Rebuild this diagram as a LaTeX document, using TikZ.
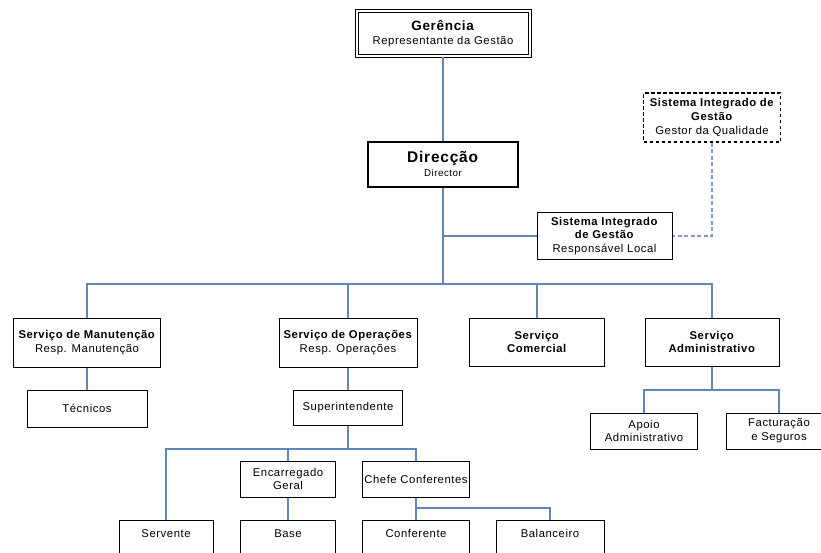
\documentclass[tikz,border=0pt]{standalone}
\usepackage{fontspec}
\setmainfont{Liberation Sans}[LetterSpace=5]
\definecolor{conn}{RGB}{98,134,184}
\definecolor{dconn}{RGB}{125,155,200}
\tikzset{
  box/.style={draw=black, line width=1pt, rectangle, align=center, inner sep=1pt,
    font=\fontsize{11.3}{13.8}\selectfont},
  link/.style={draw=conn, line width=1.3pt},
  dlink/.style={draw=dconn, line width=1.3pt, dash pattern=on 4pt off 2.5pt},
}
\newcommand{\bt}[1]{\textbf{#1}}
\begin{document}
\begin{tikzpicture}[x=1pt,y=-1pt]
\useasboundingbox (0,0) rectangle (821,552);
\clip (0,0) rectangle (821,552);
% top
\node[box, double=white, double distance=2pt, line width=1pt, minimum width=173pt, minimum height=45pt] (ger) at (443,33.5)
  {{\fontsize{13.5}{15}\selectfont\bt{Gerência}}\\Representante da Gestão};
\node[box, line width=2pt, minimum width=150pt, minimum height=45pt] (dir) at (443,164)
  {{\fontsize{15.5}{15}\selectfont\bt{Direcção}}\\{\fontsize{9.8}{11}\selectfont Director}};
\node[box, line width=1.2pt, dash pattern=on 3.5pt off 2.5pt, minimum width=137pt, minimum height=49pt] (sigq) at (712,117.5)
  {\bt{Sistema Integrado de}\\\bt{Gestão}\\Gestor da Qualidade};
\node[box, minimum width=135pt, minimum height=47pt] (sigl) at (604.5,236)
  {\bt{Sistema Integrado}\\\bt{de Gestão}\\Responsável Local};
% services
\node[box, minimum width=147pt, minimum height=49pt] (manut) at (87,342.5)
  {\bt{Serviço de Manutenção}\\Resp. Manutenção};
\node[box, minimum width=138pt, minimum height=49pt] (oper) at (348,342.5)
  {\bt{Serviço de Operações}\\Resp. Operações};
\node[box, minimum width=135pt, minimum height=48pt] (com) at (537,342)
  {\bt{Serviço}\\\bt{Comercial}};
\node[box, minimum width=134pt, minimum height=48pt] (adm) at (712,342)
  {\bt{Serviço}\\\bt{Administrativo}};
% level 3
\node[box, minimum width=120pt, minimum height=37pt] (tec) at (87,408.5) {Técnicos};
\node[box, minimum width=109pt, minimum height=35pt] (sup) at (348,407.5) {Superintendente};
\node[box, minimum width=107pt, minimum height=36pt] (apoio) at (644,431) {Apoio\\Administrativo};
\node[box, minimum width=106pt, minimum height=36pt] (fact) at (779,431) {Facturação\\e Seguros};
\node[box, minimum width=95pt, minimum height=36pt] (enc) at (288,479) {Encarregado\\Geral};
\node[box, minimum width=107pt, minimum height=36pt] (chefe) at (416,479) {Chefe Conferentes};
% bottom row
\tikzset{low/.style={box, minimum height=40pt, anchor=north, text height=8pt, text depth=14pt}}
\node[low, minimum width=94pt] (serv) at (166,520) {Servente};
\node[low, minimum width=95pt] (base) at (288,520) {Base};
\node[low, minimum width=107pt] (conf) at (416,520) {Conferente};
\node[low, minimum width=108pt] (bal) at (550,520) {Balanceiro};
% junction coordinates
\coordinate (bus) at (443,284);
\coordinate (supj) at (348,449);
\coordinate (admj) at (712,390);
\coordinate (chj) at (416,508);
% connectors
\draw[link] (ger.south) -- (dir.north);
\draw[link] (dir.south) -- (bus);
\draw[link] (dir.south |- sigl.west) -- (sigl.west);
\draw[dlink] (sigq.south) |- (sigl.east);
\draw[link] (bus) -| (manut.north);
\draw[link] (bus) -| (oper.north);
\draw[link] (bus) -| (com.north);
\draw[link] (bus) -| (adm.north);
\draw[link] (manut.south) -- (tec.north);
\draw[link] (oper.south) -- (sup.north);
\draw[link] (sup.south) -- (supj);
\draw[link] (supj) -| (serv.north);
\draw[link] (supj) -| (enc.north);
\draw[link] (supj) -| (chefe.north);
\draw[link] (enc.south) -- (base.north);
\draw[link] (adm.south) -- (admj);
\draw[link] (admj) -| (apoio.north);
\draw[link] (admj) -| (fact.north);
\draw[link] (chefe.south) -- (chj);
\draw[link] (chj) -| (conf.north);
\draw[link] (chj) -| (bal.north);
\end{tikzpicture}
\end{document}
